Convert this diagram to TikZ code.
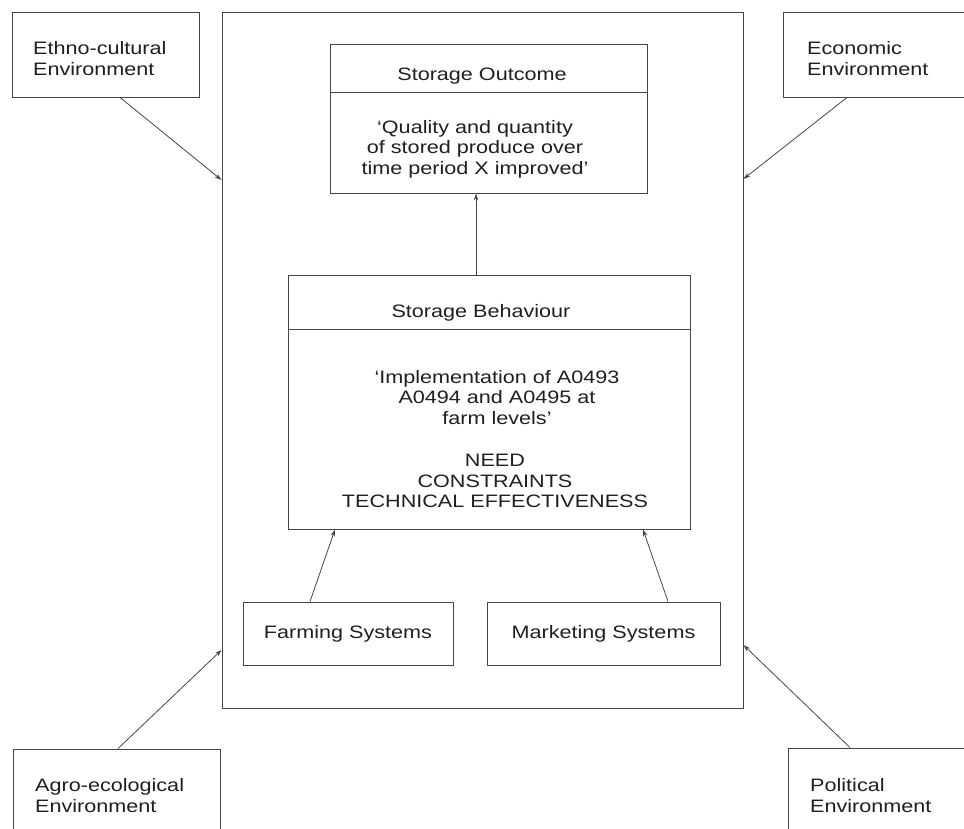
\documentclass[tikz,border=0pt]{standalone}
\usepackage{fontspec}
\setmainfont{Liberation Sans}[FakeStretch=1.2]
\usetikzlibrary{arrows.meta}
\definecolor{linec}{gray}{0.28}
\definecolor{textc}{gray}{0.12}
\tikzset{
  box/.style={draw=linec, line width=0.9pt, inner sep=0pt},
  lbl/.style={text=textc, font=\fontsize{18}{20.5}\selectfont, align=center, inner sep=0pt},
  envlbl/.style={text=textc, font=\fontsize{18}{21}\selectfont, align=left, inner sep=0pt, anchor=west},
  divider/.style={draw=linec, line width=0.9pt},
  arr/.style={draw=linec, line width=0.8pt, -{Stealth[length=7pt,width=4.5pt]}},
}
\begin{document}
\begin{tikzpicture}[x=1pt,y=-1pt]
\useasboundingbox (0,0) rectangle (964,828);
\clip (0,0) rectangle (964,828);

% outer frame
\node[box, minimum width=521pt, minimum height=696pt] (frame) at (482.5,360) {};

% environment boxes
\node[box, minimum width=187pt, minimum height=85pt] (ethno) at (105.5,54.5) {};
\node[envlbl] (ethnot) at (33,59) {Ethno-cultural\\Environment};
\node[box, minimum width=192pt, minimum height=85pt] (econ) at (879,54.5) {};
\node[envlbl] (econt) at (807,59) {Economic\\Environment};
\node[box, minimum width=207pt, minimum height=92pt] (agro) at (116.5,795) {};
\node[envlbl] (agrot) at (35,796) {Agro-ecological\\Environment};
\node[box, minimum width=184pt, minimum height=94pt] (pol) at (880,795) {};
\node[envlbl] (polt) at (810,796) {Political\\Environment};

% storage outcome
\node[box, minimum width=317pt, minimum height=149pt] (outcome) at (488.5,118.5) {};
\draw[divider] ([yshift=-49pt]outcome.north west) -- ([yshift=-49pt]outcome.north east);
\node[lbl] (outt) at (482,76.5) {Storage Outcome};
\node[lbl] (outq) at (475,149) {`Quality and quantity\\of stored produce over\\time period X improved'};

% storage behaviour
\node[box, minimum width=402pt, minimum height=254pt] (behav) at (489,402) {};
\draw[divider] ([yshift=-55pt]behav.north west) -- ([yshift=-55pt]behav.north east);
\node[lbl] (beht) at (481,312.5) {Storage Behaviour};
\node[lbl] (behq) at (497,397.5) {`Implementation of A0493\\A0494 and A0495 at\\farm levels'};
\node[lbl] (behc) at (495,481) {NEED\\CONSTRAINTS\\TECHNICAL EFFECTIVENESS};

% systems
\node[box, lbl, minimum width=210pt, minimum height=63pt] (farm) at (348,633.5) {Farming Systems};
\node[box, lbl, minimum width=233pt, minimum height=63pt] (mark) at (603.5,633.5) {Marketing Systems};

% connectors
\draw[arr] ([xshift=14.5pt]ethno.south) -- ([yshift=180pt]frame.west);
\draw[arr] ([xshift=-32pt]econ.south) -- ([yshift=181pt]frame.east);
\draw[arr] ([xshift=1.5pt]agro.north) -- ([yshift=-290pt]frame.west);
\draw[arr] ([xshift=-30pt]pol.north) -- ([yshift=-285pt]frame.east);
\draw[arr] ([xshift=-13pt]behav.north) -- ([xshift=-12.5pt]outcome.south);
\draw[arr] ([xshift=-38pt]farm.north) -- ([xshift=-154pt]behav.south);
\draw[arr] ([xshift=64.5pt]mark.north) -- ([xshift=154pt]behav.south);
\end{tikzpicture}
\end{document}
